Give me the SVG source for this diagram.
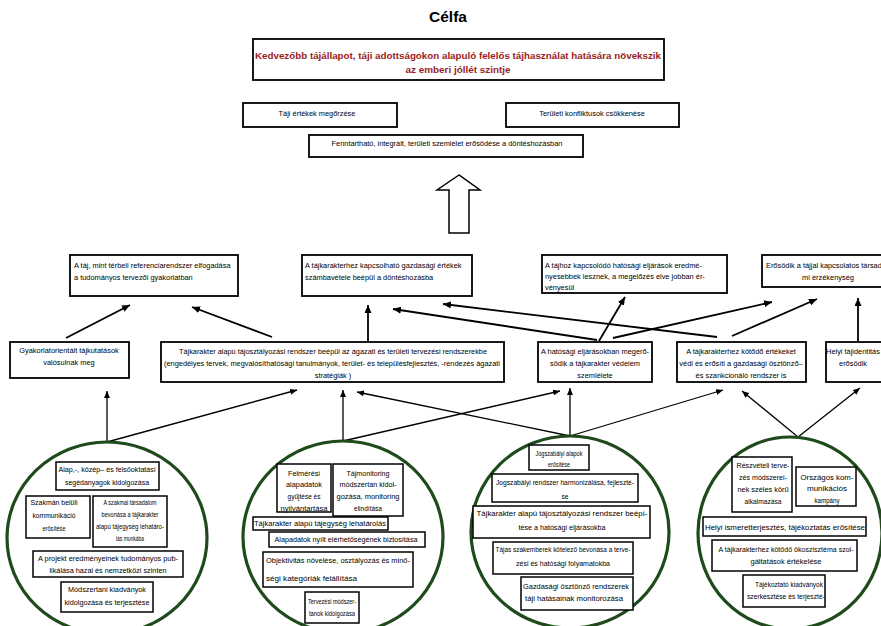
<svg xmlns="http://www.w3.org/2000/svg" width="881" height="626" viewBox="0 0 881 626">
<defs>
<style>
.b{fill:#fff;stroke:#000;stroke-width:1.8}
.s{fill:#fff;stroke:#000;stroke-width:1.5}
.t{font-family:"Liberation Sans",Arial,sans-serif;font-size:7.4px;fill:#000}
.i{font-family:"Liberation Sans",Arial,sans-serif;font-size:7px;fill:#000;text-anchor:middle}
.m{text-anchor:middle}
.c{fill:#fff;stroke:#1e4a1c;stroke-width:3.2}
.k{stroke:#000;stroke-width:1.8;fill:none;marker-end:url(#ah)}
.k2{stroke:#000;stroke-width:1.3;fill:none;marker-end:url(#ah2)}
.red{font-family:"Liberation Sans",Arial,sans-serif;font-weight:bold;font-size:9.5px;fill:#9a1c1c;text-anchor:middle}
</style>
<marker id="ah" markerUnits="userSpaceOnUse" markerWidth="8" markerHeight="7" viewBox="0 0 8 7" refX="8" refY="3.5" orient="auto"><path d="M0,0 L8,3.5 L0,7 z" fill="#000"/></marker>
<marker id="ah2" markerUnits="userSpaceOnUse" markerWidth="7" markerHeight="6" viewBox="0 0 7 6" refX="7" refY="3" orient="auto"><path d="M0,0 L7,3 L0,6 z" fill="#000"/></marker>
</defs>
<rect width="881" height="626" fill="#fff"/>
<text x="448" y="22" text-anchor="middle" font-family="Liberation Sans,Arial,sans-serif" font-weight="bold" font-size="15.5">Célfa</text>

<g id="goal">
<rect class="b" x="253" y="39" width="411" height="41"/>
<text class="red" x="458" y="59" textLength="406" lengthAdjust="spacingAndGlyphs">Kedvezőbb tájállapot, táji adottságokon alapuló felelős tájhasználat hatására növekszik</text>
<text class="red" x="458" y="73" textLength="105" lengthAdjust="spacingAndGlyphs">az emberi jóllét szintje</text>
</g>
<g id="n-taji"><rect class="b" x="243" y="103" width="154" height="24"/><text class="t m" x="317" y="115.5">Táji értékek megőrzése</text></g>
<g id="n-konfl"><rect class="b" x="506" y="103" width="173" height="24"/><text class="t m" x="592" y="115.5">Területi konfliktusok csökkenése</text></g>
<g id="n-fennt"><rect class="b" x="309" y="135" width="274" height="22"/><text class="t m" x="447" y="145.5">Fenntartható, integrált, területi szemlélet erősödése a döntéshozásban</text></g>
<g id="bigarrow"><polygon points="459,175 437,190 449,190 449,233 469,233 469,190 480,190" fill="#fff" stroke="#000" stroke-width="1.5"/></g>

<g id="r2a"><rect class="b" x="70" y="255" width="168" height="41"/><text class="t" x="74" y="267.5"><tspan x="74">A táj, mint térbeli referenciarendszer elfogadása</tspan><tspan x="74" dy="12">a tudományos tervezői gyakorlatban</tspan></text></g>
<g id="r2b"><rect class="b" x="302" y="255" width="170" height="41"/><text class="t" x="305" y="267.5"><tspan x="305">A tájkarakterhez kapcsolható gazdasági értékek</tspan><tspan x="305" dy="12">számbavétele beépül a döntéshozásba</tspan></text></g>
<g id="r2c"><rect class="b" x="542" y="255" width="185" height="38"/><text class="t" x="545" y="267.5"><tspan x="545">A tájhoz kapcsolódó hatósági eljárások eredmé-</tspan><tspan x="545" dy="11">nyesebbek lesznek, a megelőzés elve jobban ér-</tspan><tspan x="545" dy="11">vényesül</tspan></text></g>
<g id="r2d"><rect class="b" x="762" y="255" width="132" height="32"/><text class="t m" x="828" y="267.5"><tspan x="828">Erősödik a tájjal kapcsolatos társadal-</tspan><tspan x="828" dy="12">mi érzékenység</tspan></text></g>

<g id="r3a"><rect class="b" x="10" y="342" width="119" height="36"/><text class="t m" x="69" y="352.5"><tspan x="69">Gyakorlatorientált tájkutatások</tspan><tspan x="69" dy="12">valósulnak meg</tspan></text></g>
<g id="r3b"><rect class="b" x="161" y="342" width="343" height="40"/><text class="t m" x="333" y="353.5"><tspan x="333" textLength="308" lengthAdjust="spacingAndGlyphs">Tájkarakter alapú tájosztályozási rendszer beépül az ágazati és területi tervezési rendszerekbe</tspan><tspan x="332" dy="12" textLength="336" lengthAdjust="spacingAndGlyphs">(engedélyes tervek, megvalósíthatósági tanulmányok, terület- és településfejlesztés, -rendezés ágazati</tspan><tspan x="333" dy="12">stratégiák )</tspan></text></g>
<g id="r3c"><rect class="b" x="538" y="342" width="114" height="40"/><text class="t m" x="595" y="353.5"><tspan x="595">A hatósági eljárásokban megerő-</tspan><tspan x="595" dy="12">södik a tájkarakter védelem</tspan><tspan x="595" dy="12">szemlélete</tspan></text></g>
<g id="r3d"><rect class="b" x="677" y="342" width="129" height="40"/><text class="t m" x="741" y="353.5"><tspan x="741">A tájkarakterhez kötődő értékeket</tspan><tspan x="741" dy="12">védi és erősíti a gazdasági ösztönző–</tspan><tspan x="741" dy="12">és szankcionáló rendszer is</tspan></text></g>
<g id="r3e"><rect class="b" x="826" y="342" width="62" height="40"/><text class="t m" x="853" y="353.5"><tspan x="853">Helyi tájidentitás</tspan><tspan x="853" dy="12">erősödik</tspan></text></g>

<g id="connectors">
<line class="k" x1="66" y1="338" x2="130" y2="305"/>
<line class="k" x1="272" y1="337" x2="192" y2="307"/>
<line class="k" x1="368" y1="341" x2="368" y2="305"/>
<line class="k" x1="597" y1="340" x2="393" y2="309"/>
<line class="k" x1="717" y1="337" x2="443" y2="304"/>
<line class="k" x1="599" y1="341" x2="625" y2="297"/>
<line class="k" x1="613" y1="338" x2="772" y2="302"/>
<line class="k" x1="732" y1="336" x2="817" y2="299"/>
<line class="k" x1="858" y1="341" x2="858" y2="298"/>
<line class="k2" x1="107" y1="442" x2="107" y2="391"/>
<line class="k2" x1="107" y1="442" x2="297" y2="390"/>
<line class="k2" x1="343" y1="441" x2="343" y2="390"/>
<line class="k2" x1="343" y1="441" x2="560" y2="391"/>
<line class="k2" x1="570" y1="436" x2="570" y2="388"/>
<line class="k2" x1="570" y1="436" x2="357" y2="392"/>
<line class="k2" x1="570" y1="436" x2="723" y2="390"/>
<line class="k2" x1="798" y1="437" x2="742" y2="391"/>
<line class="k2" x1="798" y1="437" x2="860" y2="388"/>
</g>

<g id="circle1">
<ellipse class="c" cx="107" cy="538" rx="100" ry="96"/>
<rect class="s" x="56" y="462" width="103" height="28"/>
<text class="i" x="107" y="471.5" textLength="97" lengthAdjust="spacingAndGlyphs">Alap,-, közép– és felsőoktatási</text>
<text class="i" x="107" y="484.5" textLength="84" lengthAdjust="spacingAndGlyphs">segédanyagok kidolgozása</text>
<rect class="s" x="26" y="496" width="64" height="42"/>
<text class="i" x="54" y="504.5" textLength="47" lengthAdjust="spacingAndGlyphs">Szakmán belüli</text>
<text class="i" x="54" y="517.5" textLength="43" lengthAdjust="spacingAndGlyphs">kommunikáció</text>
<text class="i" x="54" y="530.5" textLength="23" lengthAdjust="spacingAndGlyphs">erősítése</text>
<rect class="s" x="93" y="496" width="74" height="51"/>
<text class="i" x="130" y="504.5" textLength="53" lengthAdjust="spacingAndGlyphs">A szakmai társadalom</text>
<text class="i" x="130" y="516.8" textLength="57" lengthAdjust="spacingAndGlyphs">bevonása a tájkarakter</text>
<text class="i" x="130" y="529.1" textLength="68" lengthAdjust="spacingAndGlyphs">alapú tájegység lehatáro-</text>
<text class="i" x="130" y="541.4" textLength="28" lengthAdjust="spacingAndGlyphs">lás munkába</text>
<rect class="s" x="33" y="551" width="150" height="26"/>
<text class="i" x="108" y="560.5" textLength="140" lengthAdjust="spacingAndGlyphs">A projekt eredményeinek tudományos pub-</text>
<text class="i" x="108" y="572.5" textLength="117" lengthAdjust="spacingAndGlyphs">likálása hazai és nemzetközi szinten</text>
<rect class="s" x="61" y="582" width="92" height="30"/>
<text class="i" x="107" y="591.5" textLength="78" lengthAdjust="spacingAndGlyphs">Módszertani kiadványok</text>
<text class="i" x="107" y="604.5" textLength="85" lengthAdjust="spacingAndGlyphs">kidolgozása és terjesztése</text>
</g>

<g id="circle2">
<ellipse class="c" cx="343" cy="537" rx="100" ry="96"/>
<rect class="s" x="277" y="464" width="54" height="48"/>
<text class="i" x="304" y="475.5" textLength="32" lengthAdjust="spacingAndGlyphs">Felmérési</text>
<text class="i" x="304" y="487.2" textLength="36" lengthAdjust="spacingAndGlyphs">alapadatok</text>
<text class="i" x="304" y="498.9" textLength="33" lengthAdjust="spacingAndGlyphs">gyűjtése és</text>
<text class="i" x="304" y="510.6" textLength="47" lengthAdjust="spacingAndGlyphs">nyilvántartása</text>
<rect class="s" x="333" y="464" width="70" height="52"/>
<text class="i" x="368" y="475.5" textLength="43" lengthAdjust="spacingAndGlyphs">Tájmonitoring</text>
<text class="i" x="368" y="487.2" textLength="57" lengthAdjust="spacingAndGlyphs">módszertan kidol-</text>
<text class="i" x="368" y="498.9" textLength="63" lengthAdjust="spacingAndGlyphs">gozása, monitoring</text>
<text class="i" x="368" y="510.6" textLength="28" lengthAdjust="spacingAndGlyphs">elindítása</text>
<rect class="s" x="253" y="517" width="135" height="13"/>
<text class="i" x="320" y="526" textLength="132" lengthAdjust="spacingAndGlyphs">Tájkarakter alapú tájegység lehatárolás</text>
<rect class="s" x="269" y="532" width="156" height="15"/>
<text class="i" x="346" y="542" textLength="143" lengthAdjust="spacingAndGlyphs">Alapadatok nyílt elérhetőségének biztosítása</text>
<rect class="s" x="263" y="552" width="150" height="35"/>
<text class="i" x="338" y="562.5" textLength="144" lengthAdjust="spacingAndGlyphs">Objektivitás növelése, osztályozás és minő-</text>
<text class="i" x="311.5" y="580.5" textLength="91" lengthAdjust="spacingAndGlyphs">ségi kategóriák felállítása</text>
<rect class="s" x="305" y="592" width="54" height="31"/>
<text class="i" x="332" y="603.5" textLength="48" lengthAdjust="spacingAndGlyphs">Tervezési módszer-</text>
<text class="i" x="332" y="615.5" textLength="46" lengthAdjust="spacingAndGlyphs">tanok kidolgozása</text>
</g>

<g id="circle3">
<ellipse class="c" cx="570" cy="532" rx="99" ry="96"/>
<rect class="s" x="529" y="445" width="60" height="25"/>
<text class="i" x="559" y="455.5" textLength="47" lengthAdjust="spacingAndGlyphs">Jogszabályi alapok</text>
<text class="i" x="559" y="466.5" textLength="22" lengthAdjust="spacingAndGlyphs">erősítése</text>
<rect class="s" x="492" y="474" width="146" height="28"/>
<text class="i" x="565" y="484.5" textLength="138" lengthAdjust="spacingAndGlyphs">Jogszabályi rendszer harmonizálása, fejleszté-</text>
<text class="i" x="565" y="498.5" textLength="7" lengthAdjust="spacingAndGlyphs">se</text>
<rect class="s" x="473" y="506" width="177" height="32"/>
<text class="i" x="562" y="515.5" textLength="171" lengthAdjust="spacingAndGlyphs">Tájkarakter alapú tájosztályozási rendszer beépí-</text>
<text class="i" x="562" y="530" textLength="87" lengthAdjust="spacingAndGlyphs">tése a hatósági eljárásokba</text>
<rect class="s" x="493" y="542" width="140" height="32"/>
<text class="i" x="563" y="551.5" textLength="135" lengthAdjust="spacingAndGlyphs">Tájas szakemberek kötelező bevonása a terve-</text>
<text class="i" x="563" y="566" textLength="94" lengthAdjust="spacingAndGlyphs">zési és hatósági folyamatokba</text>
<rect class="s" x="521" y="577" width="112" height="33"/>
<text class="i" x="576" y="588.5" textLength="106" lengthAdjust="spacingAndGlyphs">Gazdasági ösztönző rendszerek</text>
<text class="i" x="574" y="601" textLength="98" lengthAdjust="spacingAndGlyphs">táji hatásainak monitorozása</text>
</g>

<g id="circle4">
<ellipse class="c" cx="790" cy="533" rx="92" ry="96"/>
<rect class="s" x="732" y="457" width="60" height="55"/>
<text class="i" x="763" y="467.5" textLength="53" lengthAdjust="spacingAndGlyphs">Részvételi terve-</text>
<text class="i" x="763" y="479.8" textLength="48" lengthAdjust="spacingAndGlyphs">zés módszerei-</text>
<text class="i" x="763" y="492.1" textLength="51" lengthAdjust="spacingAndGlyphs">nek széles körű</text>
<text class="i" x="763" y="503.6" textLength="37" lengthAdjust="spacingAndGlyphs">alkalmazása</text>
<rect class="s" x="796" y="467" width="60" height="39"/>
<text class="i" x="827" y="479.5" textLength="53" lengthAdjust="spacingAndGlyphs">Országos kom-</text>
<text class="i" x="827" y="491" textLength="40" lengthAdjust="spacingAndGlyphs">munikációs</text>
<text class="i" x="827" y="502.5" textLength="25" lengthAdjust="spacingAndGlyphs">kampány</text>
<rect class="s" x="703" y="517" width="163" height="19"/>
<text class="i" x="785" y="529.5" textLength="160" lengthAdjust="spacingAndGlyphs">Helyi ismeretterjesztés, tájékoztatás erősítése</text>
<rect class="s" x="712" y="540" width="145" height="31"/>
<text class="i" x="786" y="551.5" textLength="135" lengthAdjust="spacingAndGlyphs">A tájkarakterhez kötődő ökoszisztéma szol-</text>
<text class="i" x="786" y="563.5" textLength="71" lengthAdjust="spacingAndGlyphs">gáltatások értékelése</text>
<rect class="s" x="743" y="575" width="82" height="32"/>
<text class="i" x="789" y="586.5" textLength="68" lengthAdjust="spacingAndGlyphs">Tájékoztató kiadványok</text>
<text class="i" x="786" y="599" textLength="78" lengthAdjust="spacingAndGlyphs">szerkesztése és terjeszté-</text>
</g>
</svg>
